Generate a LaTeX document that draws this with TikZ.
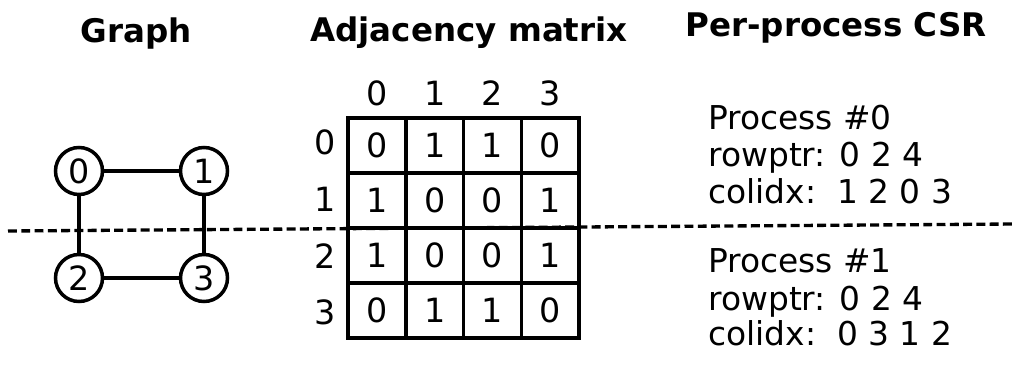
\documentclass[tikz,border=0pt]{standalone}
\usepackage{fontspec}
\setmainfont{DejaVu Sans}
\begin{document}
\begin{tikzpicture}
        [x=0.02cm, y=-0.02cm,
        vertex/.style={circle, draw, line width=2pt, minimum size=0.94cm, inner sep=0pt, font=\fontsize{19}{22}\selectfont},
        cell/.style={rectangle, draw, line width=1.9pt, minimum width=1.155cm, minimum height=1.1cm, inner sep=0pt, font=\fontsize{19}{22}\selectfont},
        label/.style={font=\fontsize{19}{22}\selectfont},
        title/.style={font=\fontsize{18.5}{22}\selectfont\bfseries, anchor=base},
        csr/.style={font=\fontsize{18.7}{22}\selectfont, anchor=base west, inner sep=0pt},
        cut/.style={line width=1.9pt, dash pattern=on 5.1pt off 2.45pt}]
        \useasboundingbox (0,0) rectangle (1025,368);

        % titles
        \node[title] (tGraph) at (136,43) {Graph};
        \node[title] (tAdj) at (469,42) {Adjacency matrix};
        \node[title] (tCSR) at (836,37) {Per-process CSR};

        % graph
        \node[vertex] (v0) at (79,171) {0};
        \node[vertex] (v1) at (204,171) {1};
        \node[vertex] (v2) at (79,278) {2};
        \node[vertex] (v3) at (204,278) {3};
        \draw[line width=1.9pt] (v0) -- (v1);
        \draw[line width=1.9pt] (v0) -- (v2);
        \draw[line width=1.9pt] (v1) -- (v3);
        \draw[line width=1.9pt] (v2) -- (v3);

        % adjacency matrix
        \foreach \r/\vals in {0/{0,1,1,0}, 1/{1,0,0,1}, 2/{1,0,0,1}, 3/{0,1,1,0}} {
            \foreach \v [count=\c from 0] in \vals {
                \node[cell] (m\r\c) at (377+57.75*\c, 145.5+55*\r) {\v};
            }
        }
        \foreach \c in {0,...,3}
            \node[label] (col\c) at (377+57.75*\c, 93) {\c};
        \node[label] (row0) at (325,142) {0};
        \node[label] (row1) at (325,199) {1};
        \node[label] (row2) at (325,256) {2};
        \node[label] (row3) at (325,312) {3};

        % per-process CSR
        \node[csr] (p0) at (708,130) {Process \#0};
        \node[csr] (p0row) at (708,167) {rowptr: 0 2 4};
        \node[csr] (p0col) at (708,203) {colidx:~~1 2 0 3};
        \node[csr] (p1) at (708,272) {Process \#1};
        \node[csr] (p1row) at (708,310) {rowptr: 0 2 4};
        \node[csr] (p1col) at (708,345) {colidx:~~0 3 1 2};

        % split between the two processes
        \coordinate (cutL) at (8,231);
        \coordinate (cutR) at (1015,224);
        \draw[cut] (cutL) -- (cutR);
    \end{tikzpicture}
\end{document}
